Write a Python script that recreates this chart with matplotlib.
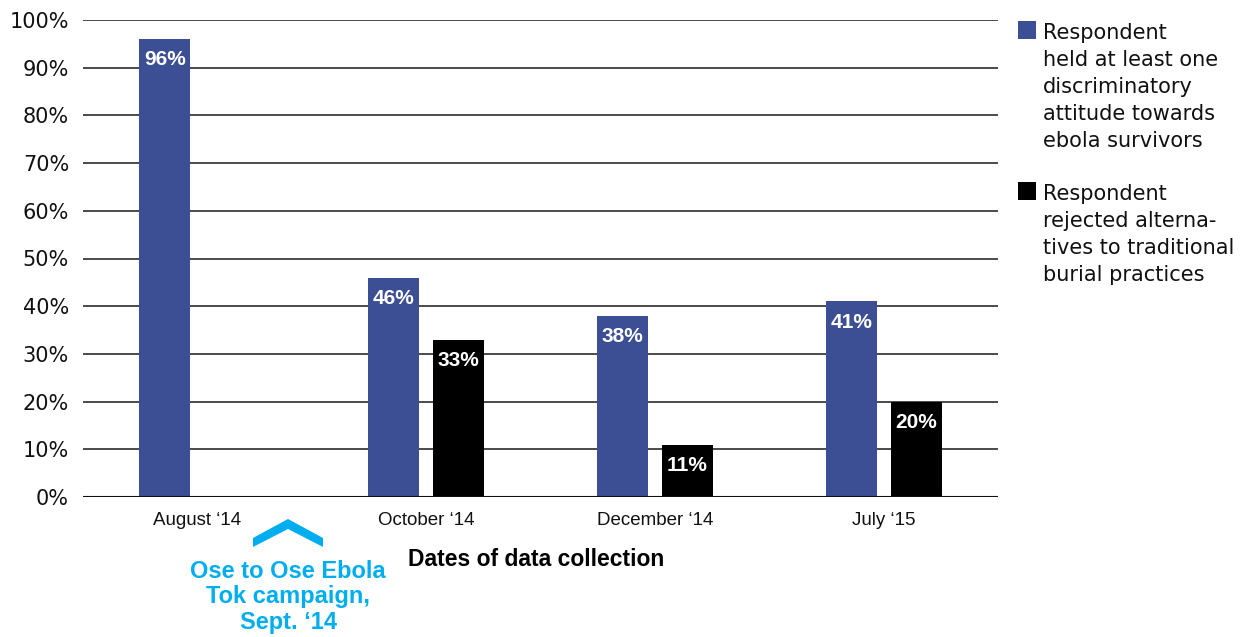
import matplotlib
matplotlib.use("Agg")
import matplotlib.pyplot as plt
from matplotlib.patches import Rectangle, Polygon
import numpy as np

categories = ["August \u201814", "October \u201814", "December \u201814", "July \u201815"]
discrim_values = [96, 46, 38, 41]
burial_values = [None, 33, 11, 20]
legend_labels = [
    "Respondent\nheld at least one\ndiscriminatory\nattitude towards\nebola survivors",
    "Respondent\nrejected alterna-\ntives to traditional\nburial practices",
]
y_ticks = [0, 10, 20, 30, 40, 50, 60, 70, 80, 90, 100]
xlabel = "Dates of data collection"
annotation = "Ose to Ose Ebola\nTok campaign,\nSept. \u201814"

BLUE = "#3C4F95"
BLACK = "#000000"
CYAN = "#00AEEF"
W, H = 1250, 637

fig = plt.figure(figsize=(12.5, 6.37), dpi=100)
ax = fig.add_axes([83 / W, 1 - 497 / H, (998 - 83) / W, (497 - 20) / H])

x = np.arange(len(categories))
bw = 0.223
off = 0.142

for yv in y_ticks[1:]:
    ax.axhline(yv, color="#4a4a4a", lw=1.4, zorder=1)
ax.axhline(0, color="#111111", lw=1.5, zorder=3)

ax.bar(x - off, discrim_values, width=bw, color=BLUE, zorder=2)
for xi, v in zip(x, discrim_values):
    ax.annotate(f"{v}%", (xi - off, v), xytext=(0, -8), textcoords="offset points",
                ha="center", va="top", color="white", fontsize=15, fontweight="bold",
                family=["Liberation Sans", "DejaVu Sans"], zorder=4)

for xi, v in zip(x, burial_values):
    if v is None:
        continue
    ax.bar(xi + off, v, width=bw, color=BLACK, zorder=2)
    ax.annotate(f"{v}%", (xi + off, v), xytext=(0, -8), textcoords="offset points",
                ha="center", va="top", color="white", fontsize=15, fontweight="bold",
                family=["Liberation Sans", "DejaVu Sans"], zorder=4)

ax.set_xlim(-0.5, 3.5)
ax.set_ylim(0, 100)
ax.set_yticks(y_ticks)
ax.set_yticklabels([f"{t}%" for t in y_ticks], fontsize=15,
                   family=["DejaVu Sans"])
ax.set_xticks(x)
ax.set_xticklabels(categories, fontsize=13.5, family=["Liberation Sans", "DejaVu Sans"])
ax.tick_params(axis="y", length=0, pad=10, colors="#111111")
ax.tick_params(axis="x", length=0, pad=11, colors="#111111")
for s in ax.spines.values():
    s.set_visible(False)

# x-axis title
fig.text(536 / W, 1 - 559 / H, xlabel, ha="center", va="center", fontsize=16.5,
         fontweight="bold", family=["Liberation Sans", "DejaVu Sans"])

# campaign annotation
fig.text(288 / W, 1 - 597 / H, annotation, ha="center", va="center", fontsize=17,
         fontweight="bold", color=CYAN, linespacing=1.15,
         family=["Liberation Sans", "DejaVu Sans"])
pts = [(253, 547), (253, 538), (288, 519), (323, 538), (323, 547), (288, 529)]
fig.patches.append(Polygon([(px / W, 1 - py / H) for px, py in pts], closed=True,
                           transform=fig.transFigure, facecolor=CYAN, edgecolor="none"))

# legend
leg_colors = [BLUE, BLACK]
leg_tops = [21, 182]
for col, top, lab in zip(leg_colors, leg_tops, legend_labels):
    fig.patches.append(Rectangle((1018 / W, 1 - (top + 18) / H), 18 / W, 18 / H,
                                 transform=fig.transFigure, facecolor=col, edgecolor="none"))
    fig.text(1043 / W, 1 - (top + 2) / H, lab, ha="left", va="top", fontsize=15,
             linespacing=1.43, color="#111111", family=["DejaVu Sans"])

fig.savefig("out.png", dpi=100)
